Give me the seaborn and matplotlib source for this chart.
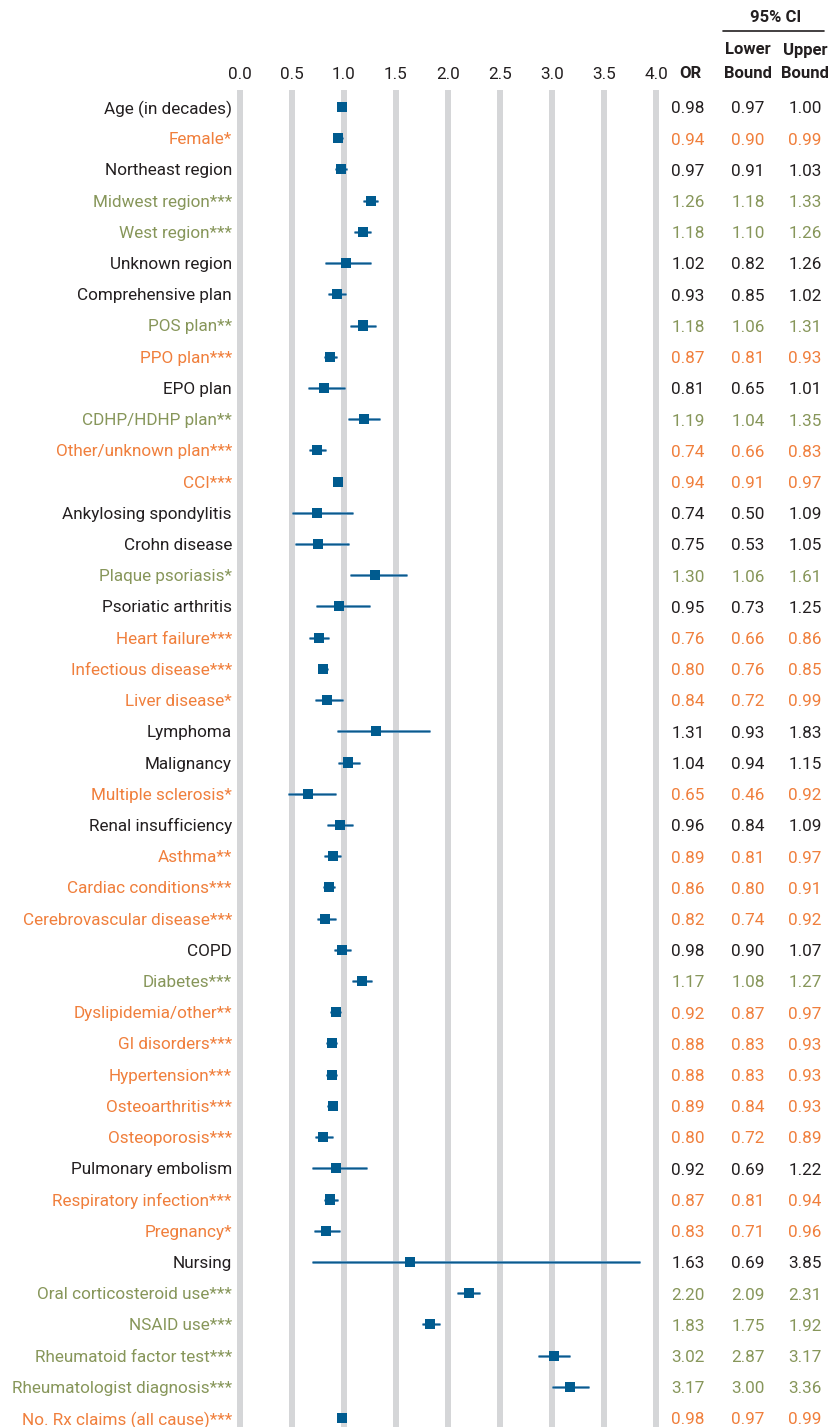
import numpy as np
import pandas as pd
import seaborn as sns
import matplotlib.pyplot as plt
import matplotlib.transforms as mtransforms

# Data
labels = ["Age (in decades)", "Female*", "Northeast region", "Midwest region***",
          "West region***", "Unknown region", "Comprehensive plan", "POS plan**",
          "PPO plan***", "EPO plan", "CDHP/HDHP plan**", "Other/unknown plan***",
          "CCI***", "Ankylosing spondylitis", "Crohn disease", "Plaque psoriasis*",
          "Psoriatic arthritis", "Heart failure***", "Infectious disease***",
          "Liver disease*", "Lymphoma", "Malignancy", "Multiple sclerosis*",
          "Renal insufficiency", "Asthma**", "Cardiac conditions***",
          "Cerebrovascular disease***", "COPD", "Diabetes***", "Dyslipidemia/other**",
          "GI disorders***", "Hypertension***", "Osteoarthritis***", "Osteoporosis***",
          "Pulmonary embolism", "Respiratory infection***", "Pregnancy*", "Nursing",
          "Oral corticosteroid use***", "NSAID use***", "Rheumatoid factor test***",
          "Rheumatologist diagnosis***", "No. Rx claims (all cause)***"]
odds = [0.98, 0.94, 0.97, 1.26, 1.18, 1.02, 0.93, 1.18, 0.87, 0.81, 1.19, 0.74,
        0.94, 0.74, 0.75, 1.30, 0.95, 0.76, 0.80, 0.84, 1.31, 1.04, 0.65, 0.96,
        0.89, 0.86, 0.82, 0.98, 1.17, 0.92, 0.88, 0.88, 0.89, 0.80, 0.92, 0.87,
        0.83, 1.63, 2.20, 1.83, 3.02, 3.17, 0.98]
lower = [0.97, 0.90, 0.91, 1.18, 1.10, 0.82, 0.85, 1.06, 0.81, 0.65, 1.04, 0.66,
         0.91, 0.50, 0.53, 1.06, 0.73, 0.66, 0.76, 0.72, 0.93, 0.94, 0.46, 0.84,
         0.81, 0.80, 0.74, 0.90, 1.08, 0.87, 0.83, 0.83, 0.84, 0.72, 0.69, 0.81,
         0.71, 0.69, 2.09, 1.75, 2.87, 3.00, 0.97]
upper = [1.00, 0.99, 1.03, 1.33, 1.26, 1.26, 1.02, 1.31, 0.93, 1.01, 1.35, 0.83,
         0.97, 1.09, 1.05, 1.61, 1.25, 0.86, 0.85, 0.99, 1.83, 1.15, 0.92, 1.09,
         0.97, 0.91, 0.92, 1.07, 1.27, 0.97, 0.93, 0.93, 0.93, 0.89, 1.22, 0.94,
         0.96, 3.85, 2.31, 1.92, 3.17, 3.36, 0.99]
ticks = [0.0, 0.5, 1.0, 1.5, 2.0, 2.5, 3.0, 3.5, 4.0]

df = pd.DataFrame({"label": labels, "OR": odds, "lo": lower, "hi": upper})
df["row"] = np.arange(len(df))


def sig_color(r):
    if "*" not in r.label:
        return "#231f20"
    return "#f07f3c" if r.OR < 1 else "#87965a"


df["color"] = df.apply(sig_color, axis=1)

sns.set_style("white")
plt.rcParams["font.family"] = ["Roboto", "DejaVu Sans"]

W, H = 829, 1427
fig = plt.figure(figsize=(W / 100, H / 100), dpi=100)
# x: 0 -> px 240, 4 -> px 656 ; rows: 0 -> px 107, step 31.21
ax_l, ax_r, ax_t = 232, 666, 90
ax = fig.add_axes([ax_l / W, 0, (ax_r - ax_l) / W, (H - ax_t) / H])
upx = 416 / 4
ax.set_xlim(-(240 - ax_l) / upx, 4 + (ax_r - 656) / upx)
step = (1418 - 107) / 42
ax.set_ylim((H - 107) / step, -(107 - ax_t) / step)

for t in ticks:
    ax.axvline(t, color="#d5d6d8", lw=4.3, zorder=0)

ax.hlines(df["row"], df["lo"], df["hi"], color="#5a93bd", lw=2.0, zorder=2)
ax.hlines(df["row"], df["lo"], df["hi"], color="#0b5a8c", lw=0.8, zorder=3)
sns.scatterplot(data=df, x="OR", y="row", marker="s", s=52, color="#005b8f",
                edgecolor="none", ax=ax, zorder=4)

for s in ax.spines.values():
    s.set_visible(False)
ax.set_xlabel("")
ax.set_ylabel("")
ax.xaxis.tick_top()
ax.set_xticks(ticks)
ax.set_xticklabels([f"{t:.1f}" for t in ticks])
ax.tick_params(axis="x", length=0, pad=6, labelsize=12.3, colors="#231f20")
ax.set_yticks(df["row"])
ax.set_yticklabels(df["label"])
ax.tick_params(axis="y", length=0, pad=0, labelsize=12.3)
for lab, c in zip(ax.get_yticklabels(), df["color"]):
    lab.set_color(c)

# table columns
tr = mtransforms.blended_transform_factory(fig.transFigure, ax.transData)
cols = [(688 / W, "OR"), (748 / W, "lo"), (805 / W, "hi")]
for _, r in df.iterrows():
    for x, k in cols:
        ax.text(x, r.row + 0.06, f"{r[k]:.2f}", transform=tr, ha="center",
                va="center", fontsize=12.3, color=r.color)

hdr = dict(ha="center", va="center", fontsize=12, fontweight="bold", color="#231f20")
fig.text(690 / W, 1 - 73 / H, "OR", **hdr)
fig.text(748 / W, 1 - 50 / H, "Lower", **hdr)
fig.text(748 / W, 1 - 73 / H, "Bound", **hdr)
fig.text(805 / W, 1 - 50 / H, "Upper", **hdr)
fig.text(805 / W, 1 - 73 / H, "Bound", **hdr)
fig.text(776 / W, 1 - 17 / H, "95% CI", **hdr)
fig.add_artist(plt.Line2D([723 / W, 824 / W], [1 - 31 / H, 1 - 31 / H],
                          color="#231f20", lw=1.2))

fig.savefig("out.png", dpi=100)
